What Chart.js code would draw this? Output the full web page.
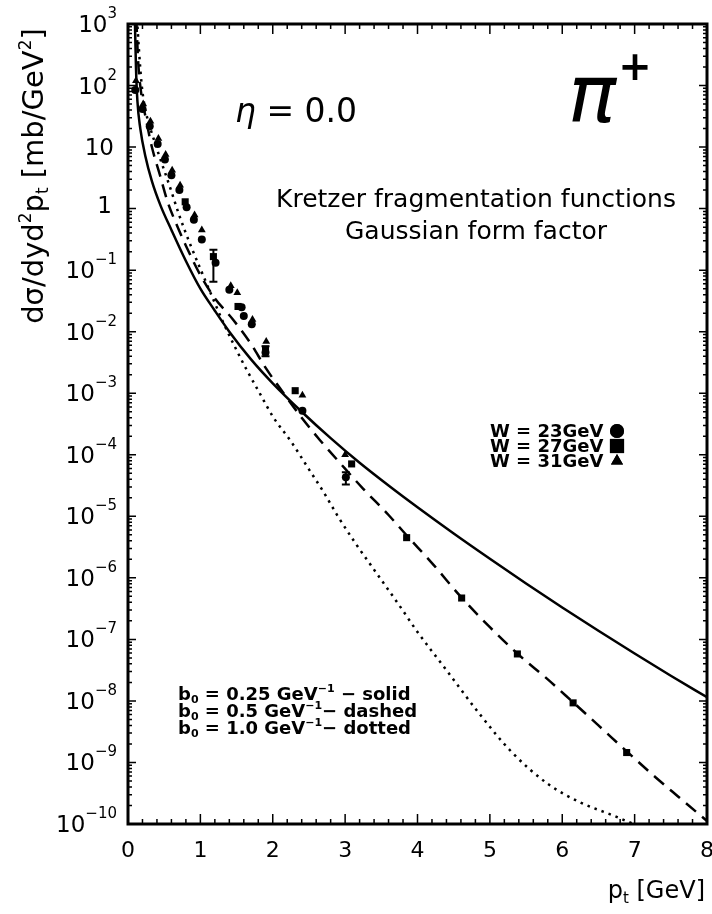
<!DOCTYPE html>
<html>
<head>
<meta charset="utf-8">
<script src="https://cdn.jsdelivr.net/npm/chart.js@4/dist/chart.umd.min.js"></script>
<style>
  html, body { margin: 0; padding: 0; background: #fff; }
  canvas { display: block; }
</style>
</head>
<body>
<canvas id="spectrum" width="712" height="914"></canvas>
<script>
// pt grids and cross sections of the three model curves (b0 = 0.25, 0.5, 1.0 GeV^-1)
const ptSolid = [0.095, 0.11, 0.13, 0.17, 0.24, 0.33, 0.45, 0.6, 0.8, 1.0, 1.2, 1.4, 1.7, 2.0, 2.4, 2.8, 3.2, 3.6, 4.0, 4.5, 5.0, 5.5, 6.0, 6.5, 7.0, 7.5, 8.0];
const valSolid = [1200, 200, 56, 20, 7.1, 2.8, 1.12, 0.45, 0.141, 0.050, 0.0219, 0.010, 3.55e-3, 1.45e-3, 5.0e-4, 1.86e-4, 7.4e-5, 3.16e-5, 1.40e-5, 5.25e-6, 2.04e-6, 8.1e-7, 3.3e-7, 1.38e-7, 5.9e-8, 2.57e-8, 1.15e-8];

const ptDashed = [0.115, 0.14, 0.18, 0.25, 0.33, 0.44, 0.55, 0.65, 0.8, 1.0, 1.2, 1.45, 1.7, 1.9, 2.15, 2.4, 2.65, 2.95, 3.25, 3.6, 3.85, 4.2, 4.6, 5.0, 5.4, 5.8, 6.15, 6.5, 6.9, 7.3, 7.6, 8.0];
const valDashed = [1200, 250, 79, 28, 10, 3.55, 1.26, 0.63, 0.25, 0.083, 0.035, 0.0158, 6.3e-3, 2.6e-3, 1.0e-3, 4.0e-4, 1.74e-4, 6.9e-5, 2.8e-5, 1.05e-5, 4.9e-6, 1.74e-6, 4.9e-7, 1.58e-7, 5.6e-8, 2.24e-8, 9.5e-9, 4.0e-9, 1.48e-9, 5.6e-10, 2.8e-10, 1.12e-10];

const ptDotted = [0.125, 0.15, 0.19, 0.23, 0.28, 0.35, 0.42, 0.5, 0.6, 0.7, 0.85, 1.0, 1.15, 1.32, 1.5, 1.64, 1.82, 2.0, 2.25, 2.5, 2.7, 2.9, 3.15, 3.45, 3.75, 4.0, 4.4, 4.85, 5.3, 5.8, 6.25, 6.7, 6.9, 7.1];
const valDotted = [1200, 400, 100, 46, 26, 14.1, 7.9, 4.2, 1.9, 0.83, 0.28, 0.105, 0.040, 0.0138, 5.0e-3, 2.4e-3, 1.0e-3, 4.2e-4, 1.66e-4, 5.8e-5, 2.5e-5, 1.0e-5, 3.55e-6, 1.12e-6, 3.55e-7, 1.32e-7, 3.16e-8, 6.3e-9, 1.48e-9, 4.5e-10, 2.24e-10, 1.38e-10, 1.1e-10, 8.7e-11];

// measured points, W = 23, 27, 31 GeV
const ptW23 = [0.10, 0.20, 0.30, 0.41, 0.51, 0.60, 0.71, 0.81, 0.91, 1.02, 1.21, 1.40, 1.57, 1.60, 1.71, 1.90, 2.41, 3.01];
const valW23 = [85, 41.7, 21.9, 11.2, 6.3, 3.47, 2.0, 1.05, 0.66, 0.316, 0.132, 0.048, 0.025, 0.018, 0.0132, 4.6e-3, 5.2e-4, 4.3e-5];

const ptW27 = [0.79, 1.18, 1.52, 1.90, 2.31, 3.09, 3.85, 4.61, 5.38, 6.15, 6.89];
const valW27 = [1.29, 0.166, 0.0257, 5.2e-3, 1.1e-3, 7.1e-5, 4.5e-6, 4.7e-7, 5.8e-8, 9.3e-9, 1.45e-9];

const ptW31 = [0.11, 0.21, 0.31, 0.42, 0.52, 0.61, 0.72, 0.92, 1.02, 1.42, 1.51, 1.72, 1.91, 2.41, 3.00];
const valW31 = [120, 50, 26.3, 13.8, 7.6, 4.2, 2.4, 0.79, 0.45, 0.056, 0.043, 0.0158, 6.9e-3, 9.3e-4, 1.0e-4];

// error bars
const errPt = [1.18, 1.90, 3.01];
const errLo = [0.065, 4.0e-3, 3.3e-5];
const errHi = [0.214, 5.8e-3, 5.2e-5];

// axis ticks
const xTicks = [0, 1, 2, 3, 4, 5, 6, 7, 8];
const yExponents = [3, 2, 1, 0, -1, -2, -3, -4, -5, -6, -7, -8, -9, -10];

const FONT = '"DejaVu Sans", "Liberation Sans", sans-serif';

function pairs(xs, ys) {
    return xs.map((x, i) => ({ x: x, y: ys[i] }));
}

// draws a run of text pieces: [text, size, dy, weight, style]
function drawRich(ctx, parts, x, y, align) {
    let total = 0;
    parts.forEach(p => {
        ctx.font = (p[4] || '') + ' ' + (p[3] || 'normal') + ' ' + p[1] + 'px ' + FONT;
        total += ctx.measureText(p[0]).width;
    });
    let cx = align === 'right' ? x - total : align === 'center' ? x - total / 2 : x;
    parts.forEach(p => {
        ctx.font = (p[4] || '') + ' ' + (p[3] || 'normal') + ' ' + p[1] + 'px ' + FONT;
        ctx.fillText(p[0], cx, y + (p[2] || 0));
        cx += ctx.measureText(p[0]).width;
    });
}

const framePlugin = {
    id: 'frame',
    afterDatasetsDraw(chart) {
        const ctx = chart.ctx;
        const a = chart.chartArea;
        const xs = chart.scales.x;
        const ys = chart.scales.y;
        ctx.save();
        ctx.strokeStyle = '#000';
        ctx.fillStyle = '#000';

        // error bars
        ctx.lineWidth = 2;
        errPt.forEach((p, i) => {
            const px = xs.getPixelForValue(p);
            const y1 = ys.getPixelForValue(errLo[i]);
            const y2 = ys.getPixelForValue(errHi[i]);
            ctx.beginPath();
            ctx.moveTo(px, y1); ctx.lineTo(px, y2);
            ctx.moveTo(px - 4, y1); ctx.lineTo(px + 4, y1);
            ctx.moveTo(px - 4, y2); ctx.lineTo(px + 4, y2);
            ctx.stroke();
        });

        // frame
        ctx.lineWidth = 3;
        ctx.strokeRect(a.left, a.top, a.right - a.left, a.bottom - a.top);

        // x ticks, top and bottom, pointing inward
        ctx.lineWidth = 1.5;
        ctx.beginPath();
        for (let k = 0; k <= 40; k++) {
            const px = xs.getPixelForValue(k * 0.2);
            const len = k % 5 === 0 ? 10 : 5;
            ctx.moveTo(px, a.bottom); ctx.lineTo(px, a.bottom - len);
            ctx.moveTo(px, a.top); ctx.lineTo(px, a.top + len);
        }
        // y ticks, left and right
        for (let e = -10; e <= 3; e++) {
            for (let m = 1; m <= 9; m++) {
                if (e === 3 && m > 1) continue;
                const py = ys.getPixelForValue(m * Math.pow(10, e));
                const len = m === 1 ? 8 : 4;
                ctx.moveTo(a.left, py); ctx.lineTo(a.left + len, py);
                ctx.moveTo(a.right, py); ctx.lineTo(a.right - len, py);
            }
        }
        ctx.stroke();

        // y tick labels
        ctx.textBaseline = 'alphabetic';
        yExponents.forEach(e => {
            const py = ys.getPixelForValue(Math.pow(10, e));
            if (e === 1) {
                drawRich(ctx, [['10', 23]], 114, py + 8, 'right');
            } else if (e === 0) {
                drawRich(ctx, [['1', 23]], 112, py + 4, 'right');
            } else {
                const sup = e < 0 ? '\u2212' + (-e) : String(e);
                drawRich(ctx, [['10', 23], [sup, 15, -14]], 117, py + 8, 'right');
            }
        });

        // x tick labels
        xTicks.forEach(v => {
            const px = xs.getPixelForValue(v);
            drawRich(ctx, [[String(v), 22]], px, a.bottom + 33, 'center');
        });

        // x title
        drawRich(ctx, [['p', 24], ['t', 15, 5], [' [GeV]', 24]], 705, 898, 'right');

        // y title
        ctx.save();
        ctx.translate(33, 176);
        ctx.rotate(-Math.PI / 2);
        drawRich(ctx, [
            ['d\u03c3/dyd', 29], ['2', 17, -12], ['p', 29], ['t', 17, 5],
            [' [mb/GeV', 29], ['2', 17, -12], [']', 29]
        ], 0, 10, 'center');
        ctx.restore();

        // annotations
        drawRich(ctx, [['\u03b7', 33, 0, 'normal', 'italic'], [' = 0.0', 33]], 235, 122, 'left');
        drawRich(ctx, [['\u03c0', 80, 0, 'normal', 'italic']], 592, 122, 'center');
        drawRich(ctx, [['+', 40, 0, 'bold']], 635, 80, 'center');
        drawRich(ctx, [['Kretzer fragmentation functions', 25]], 476, 207, 'center');
        drawRich(ctx, [['Gaussian form factor', 25]], 476, 239, 'center');

        // marker legend
        const wRows = [['W = 23GeV', 437, 'circle'], ['W = 27GeV', 452, 'rect'], ['W = 31GeV', 467, 'triangle']];
        wRows.forEach(r => {
            drawRich(ctx, [[r[0], 18, 0, 'bold']], 490, r[1], 'left');
            Chart.helpers.drawPoint(ctx, { pointStyle: r[2], radius: r[2] === 'rect' ? 10 : 7, borderWidth: 0 }, 617, r[1] - 6);
            ctx.fill();
        });

        // curve legend
        const bRows = [
            [' = 0.25 GeV', ' \u2212 solid', 700],
            [' = 0.5 GeV', '\u2212 dashed', 717],
            [' = 1.0 GeV', '\u2212 dotted', 734]
        ];
        bRows.forEach(r => {
            drawRich(ctx, [
                ['b', 18, 0, 'bold'], ['0', 11, 3, 'bold'], [r[0], 18, 0, 'bold'],
                ['\u22121', 11, -8, 'bold'], [r[1], 18, 0, 'bold']
            ], 178, r[2], 'left');
        });

        ctx.restore();
    }
};

new Chart(document.getElementById('spectrum'), {
    type: 'scatter',
    data: {
        datasets: [
            {
                data: pairs(ptSolid, valSolid), showLine: true, borderColor: '#000',
                borderWidth: 2.5, pointRadius: 0, cubicInterpolationMode: 'monotone'
            },
            {
                data: pairs(ptDashed, valDashed), showLine: true, borderColor: '#000',
                borderWidth: 2.5, borderDash: [13, 8], pointRadius: 0, cubicInterpolationMode: 'monotone'
            },
            {
                data: pairs(ptDotted, valDotted), showLine: true, borderColor: '#000',
                borderWidth: 2.5, borderDash: [2.5, 5], pointRadius: 0, cubicInterpolationMode: 'monotone'
            },
            {
                data: pairs(ptW23, valW23), pointStyle: 'circle', pointRadius: 4,
                backgroundColor: '#000', borderColor: '#000', borderWidth: 0
            },
            {
                data: pairs(ptW27, valW27), pointStyle: 'rect', pointRadius: 5,
                backgroundColor: '#000', borderColor: '#000', borderWidth: 0
            },
            {
                data: pairs(ptW31, valW31), pointStyle: 'triangle', pointRadius: 4.5,
                backgroundColor: '#000', borderColor: '#000', borderWidth: 0
            }
        ]
    },
    options: {
        responsive: false,
        animation: false,
        layout: { padding: { top: 24, right: 5, left: 0, bottom: 0 } },
        plugins: { legend: { display: false }, tooltip: { enabled: false } },
        scales: {
            x: {
                type: 'linear', min: 0, max: 8,
                ticks: { display: false }, grid: { display: false }, border: { display: false },
                afterFit: s => { s.height = 90; }
            },
            y: {
                type: 'logarithmic', min: 1e-10, max: 1e3,
                ticks: { display: false }, grid: { display: false }, border: { display: false },
                afterFit: s => { s.width = 128; }
            }
        }
    },
    plugins: [framePlugin]
});
</script>
</body>
</html>
